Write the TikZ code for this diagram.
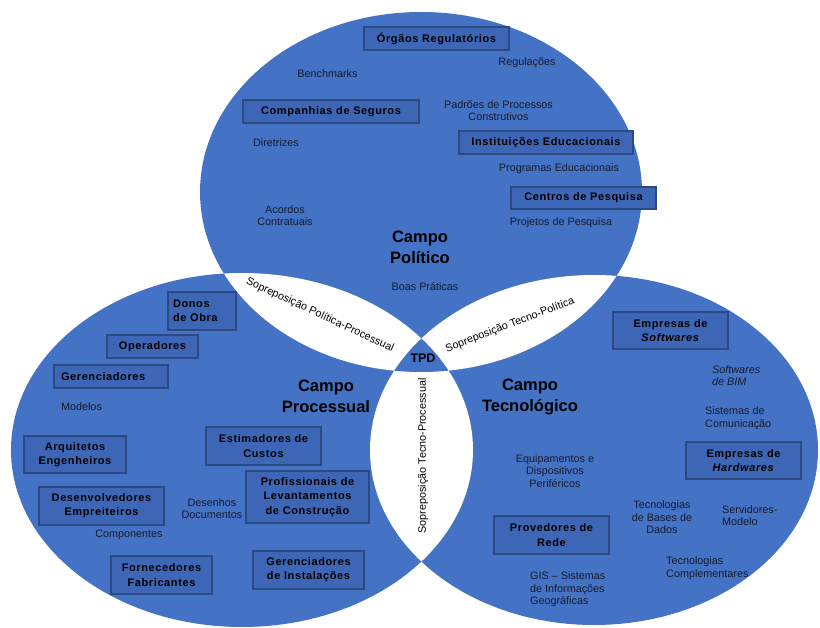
\documentclass[tikz,border=0pt]{standalone}
\usepackage{fontspec}
\setmainfont{Liberation Sans}
\usetikzlibrary{shadows}
\definecolor{venn}{HTML}{4472C4}
\definecolor{boxfill}{HTML}{3D67B6}
\definecolor{boxline}{HTML}{2C4A82}
\definecolor{txt}{HTML}{161C2C}
\newcommand\bxfont{\fontsize{11}{14.3}\selectfont\bfseries\addfontfeature{LetterSpace=5.5}}
\newcommand\smfont{\fontsize{10.8}{12.6}\selectfont}
\newcommand\ttlfont{\fontsize{16.5}{21}\selectfont\bfseries}
\tikzset{
  bx/.style={draw=boxline, line width=1.3pt, fill=boxfill, font=\bxfont, text=black,
    align=center, inner sep=0pt, drop shadow={shadow xshift=1.2pt, shadow yshift=-1.2pt, opacity=0.35}},
  sm/.style={font=\smfont, text=txt, align=center, inner sep=0pt},
  ttl/.style={font=\ttlfont, text=black, align=center, inner sep=0pt},
  lens/.style={font=\smfont, text=black, inner sep=0pt}
}
\begin{document}
\begin{tikzpicture}[x=1pt,y=-1pt]
\useasboundingbox (0,0) rectangle (820,628);
\def\topE{(421,192) ellipse [x radius=221pt, y radius=180pt]}
\def\leftE{(242,450) ellipse [x radius=231pt, y radius=177pt]}
\def\rightE{(594,450) ellipse [x radius=224pt, y radius=175pt]}
% circles
\fill[venn] \topE;
\fill[venn] \leftE;
\fill[venn] \rightE;
% pairwise overlaps in white
\begin{scope}
  \clip \topE;
  \fill[white] \leftE;
  \fill[white] \rightE;
\end{scope}
\begin{scope}
  \clip \leftE;
  \fill[white] \rightE;
\end{scope}
% triple overlap
\begin{scope}
  \clip \topE;
  \clip \leftE;
  \fill[venn] \rightE;
\end{scope}

% titles
\node[ttl] (tpol) at (420,247.5) {Campo\\Político};
\node[ttl] (tpro) at (326,396.5) {Campo\\Processual};
\node[ttl] (ttec) at (530,396.5) {Campo\\Tecnológico};
\node[font=\fontsize{12.5}{14}\selectfont\bfseries, inner sep=0pt] (tpd) at (423,358) {TPD};

% lens labels
\node[lens, rotate=-25] (lpp) at (320,315) {Sopreposição Política-Processual};
\node[lens, rotate=21] (ltp) at (510,325) {Sopreposição Tecno-Política};
\node[lens, rotate=90] (ltpr) at (423,456) {Sopreposição Tecno-Processual};

% boxes - political
\node[bx, minimum width=145pt, minimum height=23pt] (org) at (436.5,38.5) {Órgãos Regulatórios};
\node[bx, minimum width=176pt, minimum height=23pt] (cia) at (331,111.5) {Companhias de Seguros};
\node[bx, minimum width=174pt, minimum height=23pt] (inst) at (546,142.5) {Instituições Educacionais};
\node[bx, minimum width=145pt, minimum height=22pt] (cen) at (583.5,198) {Centros de Pesquisa};
% boxes - process
\node[bx, minimum width=68pt, minimum height=38pt, text width=58pt, align=left] (don) at (202,311) {Donos\\de Obra};
\node[bx, minimum width=91pt, minimum height=23pt] (ope) at (152.5,346.5) {Operadores};
\node[bx, minimum width=114pt, minimum height=23pt, text width=100pt, align=left] (ger) at (111,376.5) {Gerenciadores};
\node[bx, minimum width=102pt, minimum height=37pt] (arq) at (75,454.5) {Arquitetos\\Engenheiros};
\node[bx, minimum width=115pt, minimum height=38pt] (est) at (263.5,446) {Estimadores de\\Custos};
\node[bx, minimum width=125pt, minimum height=38pt] (des) at (101.5,506) {Desenvolvedores\\Empreiteiros};
\node[bx, minimum width=123pt, minimum height=52pt] (prof) at (307.5,497) {Profissionais de\\Levantamentos\\de Construção};
\node[bx, minimum width=101pt, minimum height=38pt] (for) at (161.5,575) {Fornecedores\\Fabricantes};
\node[bx, minimum width=111pt, minimum height=38pt] (gin) at (308.5,570) {Gerenciadores\\de Instalações};
% boxes - technology
\node[bx, minimum width=115pt, minimum height=37pt] (sof) at (670.5,330.5) {Empresas de\\\textit{Softwares}};
\node[bx, minimum width=115pt, minimum height=37pt] (har) at (743.5,460.5) {Empresas de\\\textit{Hardwares}};
\node[bx, minimum width=115pt, minimum height=38pt] (pro) at (551.5,535) {Provedores de\\Rede};

% small texts - political
\node[sm] (reg) at (527,63) {Regulações};
\node[sm] (ben) at (327.5,74) {Benchmarks};
\node[sm] (pad) at (498.5,110.5) {Padrões de Processos\\Construtivos};
\node[sm] (dir) at (276,143) {Diretrizes};
\node[sm] (prg) at (559,169) {Programas Educacionais};
\node[sm] (prj) at (561,223) {Projetos de Pesquisa};
\node[sm] (aco) at (285,215.5) {Acordos\\Contratuais};
\node[sm] (boa) at (425,287) {Boas Práticas};
% small texts - process
\node[sm] (mod) at (81.5,407) {Modelos};
\node[sm] (dsn) at (212,508.5) {Desenhos\\Documentos};
\node[sm] (com) at (129,535) {Componentes};
% small texts - technology
\node[sm, align=left, anchor=west, font=\smfont\itshape] (sbim) at (712,375.5) {Softwares\\de BIM};
\node[sm, align=left, anchor=west] (sis) at (705,418) {Sistemas de\\Comunicação};
\node[sm] (equ) at (555,471) {Equipamentos e\\Dispositivos\\Periféricos};
\node[sm] (tbd) at (662,517.5) {Tecnologias\\de Bases de\\Dados};
\node[sm, align=left, anchor=west] (ser) at (722,515.5) {Servidores-\\Modelo};
\node[sm, align=left, anchor=west] (tco) at (666,568.5) {Tecnologias\\Complementares};
\node[sm, align=left, anchor=west] (gis) at (530,589.5) {GIS – Sistemas\\de Informações\\Geográficas};
\end{tikzpicture}
\end{document}
